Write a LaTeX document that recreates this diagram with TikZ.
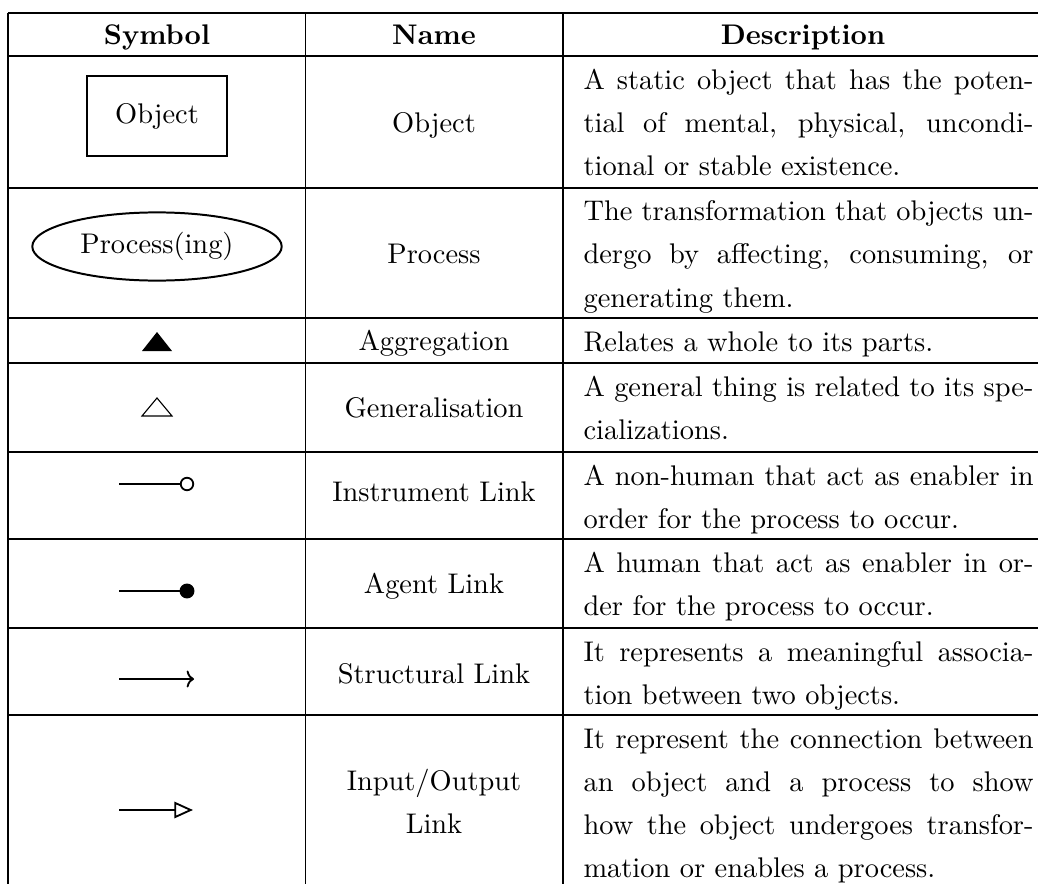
\documentclass[tikz,border=0pt]{standalone}
\usetikzlibrary{shapes.geometric,arrows.meta}
% width of the justified description column
\newlength\descw
\setlength\descw{158.4pt}
\newcommand\jline[1]{\makebox[\descw][s]{#1}}
\begin{document}
\begin{tikzpicture}[x=0.352pt,y=-0.352pt,
  rule/.style={line width=0.4pt},
  hdr/.style={anchor=base,inner sep=0pt,font=\bfseries},
  cell/.style={anchor=base,inner sep=0pt},
  desc/.style={anchor=base west,inner sep=0pt},
  sym/.style={line width=0.65pt},
  objbox/.style={draw,line width=0.7pt,minimum width=49.4pt,minimum height=28pt,inner sep=0pt},
  procell/.style={draw,ellipse,line width=0.7pt,minimum width=87.8pt,minimum height=24pt,inner sep=0pt},
  dot/.style={circle,draw,line width=0.65pt,inner sep=0pt},
]
\useasboundingbox (0,0) rectangle (1038,884);

% table rules
\foreach \y in {13,56,188,318,363,452,539,628,715}
  \draw[rule] (8,\y) -- (1038,\y);
\foreach \x in {8,305.5,563}
  \draw[rule] (\x,13) -- (\x,884);

% header
\node[hdr] (hsym)  at (157,44) {Symbol};
\node[hdr] (hname) at (434,44) {Name};
\node[hdr] (hdesc) at (803,44) {Description};

% symbols
\node[objbox] (obj) at (157,116) {Object};
\node[procell] (proc) at (157,246.5) {Process(ing)};
\fill (142,351) -- (172,351) -- (157,332) -- cycle;
\draw[line width=0.4pt,line join=miter] (142,416) -- (172,416) -- (157,398) -- cycle;

\coordinate (i0) at (119,484);
\node[dot,minimum size=4.4pt] (i1) at (187,484) {};
\draw[sym] (i0) -- (i1);

\coordinate (a0) at (119,591);
\node[dot,fill=black,minimum size=4.6pt] (a1) at (187,591) {};
\draw[sym] (a0) -- (a1);

\coordinate (s0) at (119,679);
\coordinate (s1) at (194,679);
\draw[sym,-{To[length=2.6pt,width=6pt]}] (s0) -- (s1);

\coordinate (o0) at (119,810);
\coordinate (o1) at (193,810);
\draw[sym,-{Triangle[open,length=6.6pt,width=5.8pt]}] (o0) -- (o1);

% names
\node[cell] (n1) at (434,132) {Object};
\node[cell] (n2) at (434,263) {Process};
\node[cell] (n3) at (434,350) {Aggregation};
\node[cell] (n4) at (434,417) {Generalisation};
\node[cell] (n5) at (434,501) {Instrument Link};
\node[cell] (n6) at (434,594) {Agent Link};
\node[cell] (n7) at (434,683) {Structural Link};
\node[cell] (n8a) at (434,790) {Input/Output};
\node[cell] (n8b) at (434,833) {Link};

% descriptions
\node[desc] (d1a) at (583,89)  {\jline{A static object that has the poten-}};
\node[desc] (d1b) at (583,132) {\jline{tial of mental, physical, uncondi-}};
\node[desc] (d1c) at (583,175) {tional or stable existence.};

\node[desc] (d2a) at (583,221) {\jline{The transformation that objects un-}};
\node[desc] (d2b) at (583,264) {\jline{dergo by affecting, consuming, or}};
\node[desc] (d2c) at (583,307) {generating them.};

\node[desc] (d3a) at (583,352) {Relates a whole to its parts.};

\node[desc] (d4a) at (583,396) {\jline{A general thing is related to its spe-}};
\node[desc] (d4b) at (583,439) {cializations.};

\node[desc] (d5a) at (583,485) {\jline{A non-human that act as enabler in}};
\node[desc] (d5b) at (583,528) {order for the process to occur.};

\node[desc] (d6a) at (583,572) {\jline{A human that act as enabler in or-}};
\node[desc] (d6b) at (583,615) {der for the process to occur.};

\node[desc] (d7a) at (583,661) {\jline{It represents a meaningful associa-}};
\node[desc] (d7b) at (583,704) {tion between two objects.};

\node[desc] (d8a) at (583,748) {\jline{It represent the connection between}};
\node[desc] (d8b) at (583,791) {\jline{an object and a process to show}};
\node[desc] (d8c) at (583,834) {\jline{how the object undergoes transfor-}};
\node[desc] (d8d) at (583,877) {mation or enables a process.};
\end{tikzpicture}
\end{document}
